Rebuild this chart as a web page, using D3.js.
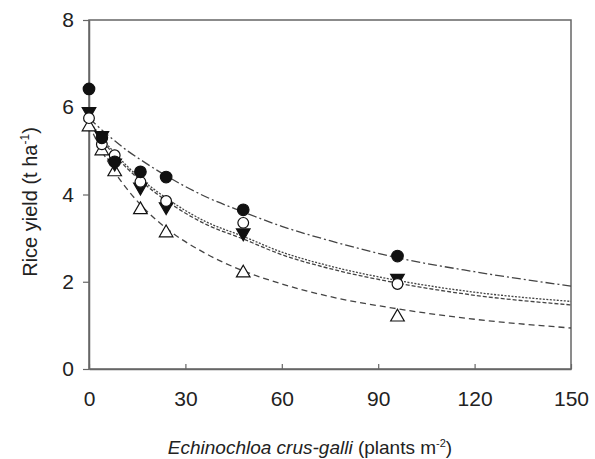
<!DOCTYPE html>
<html>
<head>
<meta charset="utf-8">
<script src="https://cdn.jsdelivr.net/npm/d3@7"></script>
<style>
  body { margin: 0; background: #fff; }
  text { font-family: "Liberation Sans", Arial, sans-serif; fill: #222; }
</style>
</head>
<body>
<div id="chart-area"></div>
<script>
// weed densities (plants m-2)
var density = [0, 4, 8, 16, 24, 48, 96];

// observed yields (t/ha) per symbol
var filledCircle = [6.42, 5.3, 4.75, 4.52, 4.40, 3.65, 2.59];
var openCircle   = [5.75, 5.15, 4.9, 4.29, 3.85, 3.35, 1.95];
var filledTri    = [5.9, 5.35, 4.72, 4.17, 3.72, 3.12, 2.08];
var openTri      = [5.55, 5.0, 4.52, 3.65, 3.12, 2.2, 1.19];

// fitted curves
var curveX = [0, 4, 8, 12, 16, 24, 36, 48, 60, 75, 96, 120, 150];
var curveFilledCircle = [5.75, 5.48, 5.23, 5.0, 4.80, 4.43, 3.96, 3.6, 3.27, 2.94, 2.55, 2.23, 1.9];
var curveOpenCircle   = [5.7, 5.3, 4.95, 4.64, 4.37, 3.92, 3.39, 3.04, 2.68, 2.36, 2.03, 1.76, 1.55];
var curveFilledTri    = [5.65, 5.25, 4.9, 4.59, 4.32, 3.86, 3.33, 2.98, 2.62, 2.3, 1.97, 1.69, 1.47];
var curveOpenTri      = [5.6, 5.0, 4.51, 4.11, 3.77, 3.23, 2.66, 2.25, 1.95, 1.66, 1.38, 1.14, 0.94];

var xTicks = [0, 30, 60, 90, 120, 150];
var yTicks = [0, 2, 4, 6, 8];

var margin = { left: 89, right: 24, top: 20, bottom: 90 };
var width = 595 - margin.left - margin.right,
    height = 459 - margin.top - margin.bottom;

var svg = d3.select("#chart-area")
    .append("svg")
    .attr("width", 595)
    .attr("height", 459);

var g = svg.append("g")
    .attr("transform", "translate(" + margin.left + "," + margin.top + ")");

var x = d3.scaleLinear().domain([0, 150]).range([0, width]);
var y = d3.scaleLinear().domain([0, 8]).range([height, 0]);

// frame
g.append("rect")
    .attr("width", width)
    .attr("height", height)
    .attr("fill", "none")
    .attr("stroke", "#666")
    .attr("stroke-width", 1.5);

// axes
var xAxis = g.append("g")
    .attr("transform", "translate(0," + height + ")")
    .call(d3.axisBottom(x).tickValues(xTicks).tickSizeInner(-5).tickSizeOuter(0).tickPadding(22));
var yAxis = g.append("g")
    .call(d3.axisLeft(y).tickValues(yTicks).tickSize(6).tickSizeOuter(0).tickPadding(9));

[xAxis, yAxis].forEach(function(a) {
    a.select(".domain").attr("stroke", "#666").attr("stroke-width", 1.5);
    a.selectAll(".tick line").attr("stroke", "#666").attr("stroke-width", 1.2);
    a.selectAll(".tick text")
        .attr("font-family", "Liberation Sans, Arial, sans-serif")
        .attr("font-size", "21px")
        .attr("fill", "#333");
});

// fitted curves
var line = d3.line()
    .x(function(d) { return x(d[0]); })
    .y(function(d) { return y(d[1]); })
    .curve(d3.curveMonotoneX);

var curves = [
    { vals: curveFilledCircle, dash: "9,3,2,3" },
    { vals: curveOpenCircle, dash: "2,1.5" },
    { vals: curveFilledTri, dash: "4,2" },
    { vals: curveOpenTri, dash: "6,4" }
];
curves.forEach(function(c) {
    g.append("path")
        .datum(d3.zip(curveX, c.vals))
        .attr("d", line)
        .attr("fill", "none")
        .attr("stroke", "#444")
        .attr("stroke-width", 1.3)
        .attr("stroke-dasharray", c.dash);
});

// markers
var series = [
    { vals: openTri, type: d3.symbolTriangle, fill: "#fff", size: 80, rot: 0 },
    { vals: filledTri, type: d3.symbolTriangle, fill: "#111", size: 80, rot: 180 },
    { vals: openCircle, type: d3.symbolCircle, fill: "#fff", size: 90, rot: 0 },
    { vals: filledCircle, type: d3.symbolCircle, fill: "#111", size: 105, rot: 0 }
];
series.forEach(function(s) {
    g.selectAll(null)
        .data(d3.zip(density, s.vals))
        .enter()
        .append("path")
        .attr("d", d3.symbol().type(s.type).size(s.size))
        .attr("transform", function(d) {
            return "translate(" + x(d[0]) + "," + y(d[1]) + ") rotate(" + s.rot + ")";
        })
        .attr("fill", s.fill)
        .attr("stroke", "#111")
        .attr("stroke-width", 1.2);
});

// axis titles
var yLabel = svg.append("text")
    .attr("transform", "translate(37,202) rotate(-90)")
    .attr("text-anchor", "middle")
    .attr("font-size", "20px");
yLabel.append("tspan").text("Rice yield (t ha");
yLabel.append("tspan").attr("font-size", "12px").attr("dy", -8).text("-1");
yLabel.append("tspan").attr("dy", 8).text(")");

var xLabel = svg.append("text")
    .attr("x", 310)
    .attr("y", 454)
    .attr("text-anchor", "middle")
    .attr("font-size", "19px");
xLabel.append("tspan").attr("font-style", "italic").text("Echinochloa crus-galli");
xLabel.append("tspan").text(" (plants m");
xLabel.append("tspan").attr("font-size", "11px").attr("dy", -7).text("-2");
xLabel.append("tspan").attr("dy", 7).text(")");
</script>
</body>
</html>
